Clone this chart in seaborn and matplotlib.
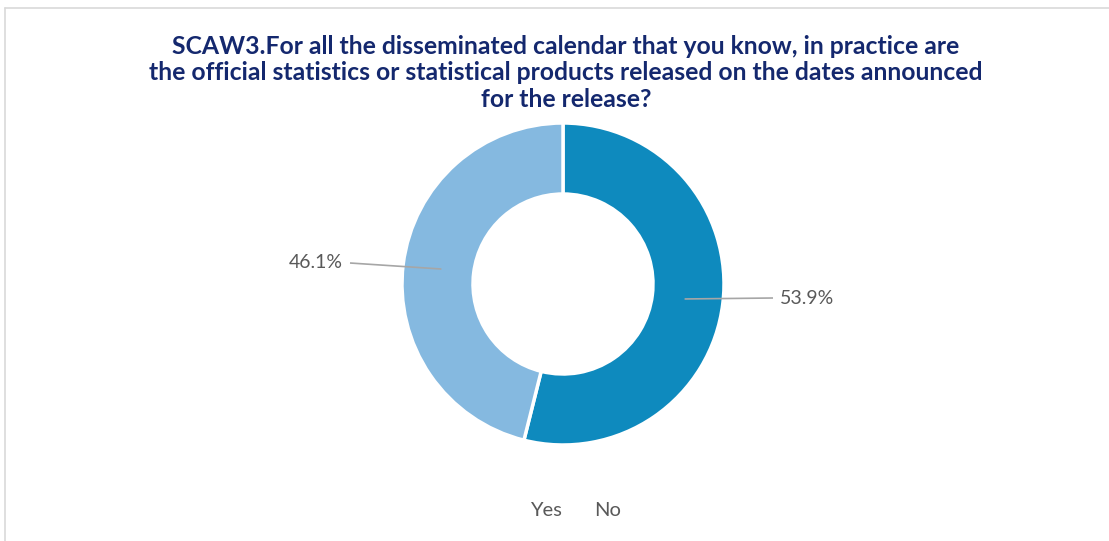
import numpy as np
import matplotlib
matplotlib.use("Agg")
import matplotlib.pyplot as plt
import seaborn as sns

categories = ["Yes", "No"]
shares = [46.1, 53.9]
colors = ["#85B9E0", "#0E8ABE"]
title = ("SCAW3.For all the disseminated calendar that you know, in practice are\n"
         "the official statistics or statistical products released on the dates announced\n"
         "for the release?")

sns.set_theme(style="white")
plt.rcParams["font.family"] = ["Lato", "DejaVu Sans"]

W, H = 1109, 541
fig = plt.figure(figsize=(W / 100, H / 100), dpi=100)
ax = fig.add_axes([0, 0, 1, 1])

cx, cy, r_out, r_in = 563, H - 284, 161, 90

# draw "No" first from 12 o'clock clockwise, then "Yes"
order = [1, 0]
vals = [shares[i] for i in order]
cols = [colors[i] for i in order]
wedges, _ = ax.pie(vals, colors=cols, startangle=90, counterclock=False,
                   center=(cx, cy), radius=r_out, frame=True,
                   wedgeprops=dict(width=r_out - r_in, edgecolor="white", linewidth=2.5))

# percentage labels with leader lines
total = sum(vals)
start = 90.0
label_pos = {"No": (780, H - 298, "left"), "Yes": (343, H - 263, "right")}
for idx, v in zip(order, vals):
    sweep = v / total * 360
    mid = np.deg2rad(start - sweep / 2)
    start -= sweep
    rm = (r_out + r_in) / 2 - 3
    px, py = cx + rm * np.cos(mid), cy + rm * np.sin(mid)
    tx, ty, ha = label_pos[categories[idx]]
    lx = tx - 7 if ha == "left" else tx + 7
    ax.plot([px, lx], [py, ty], color="#A6A6A6", lw=1.2, solid_capstyle="butt")
    ax.text(tx, ty, f"{v:.1f}%", ha=ha, va="center", fontsize=14, color="#595959")

# title
ax.text(566, H - 73, title, ha="center", va="center", fontsize=17.8, fontweight="bold",
        color="#14286E", linespacing=1.2)

# legend (text only)
ax.text(546, H - 510, categories[0], ha="center", va="center", fontsize=14.5, color="#595959")
ax.text(608, H - 510, categories[1], ha="center", va="center", fontsize=14.5, color="#595959")

# outer frame lines
ax.plot([5, 5], [0, H - 8], color="#D9D9D9", lw=1.2)
ax.plot([5, W], [H - 8, H - 8], color="#D9D9D9", lw=1.2)

ax.set_xlim(0, W)
ax.set_ylim(0, H)
ax.set_aspect("equal")
ax.axis("off")

fig.savefig("out.png", dpi=100, facecolor="white")
